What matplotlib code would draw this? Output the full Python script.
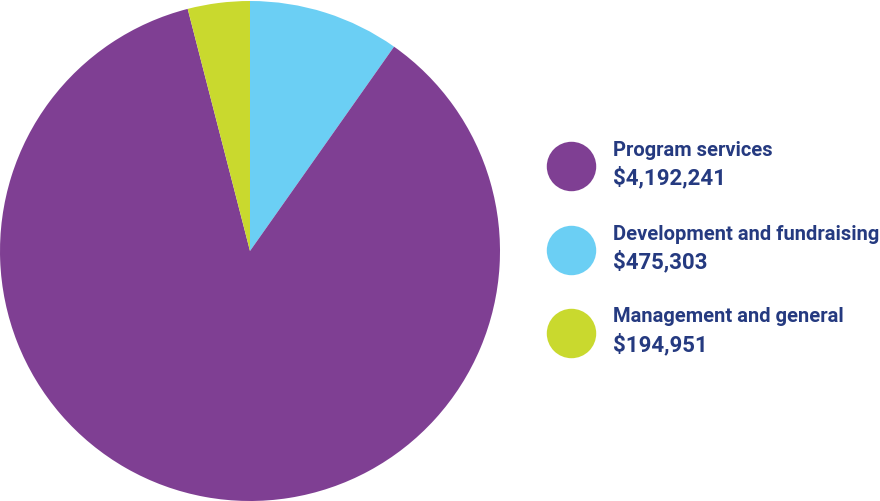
import matplotlib
matplotlib.use("Agg")
import matplotlib.pyplot as plt

labels = ["Development and fundraising", "Program services", "Management and general"]
values = [475303, 4192241, 194951]
colors = ["#6BCFF4", "#7F3F93", "#C9D92E"]

legend_order = [1, 0, 2]
text_color = "#253A80"

fig = plt.figure(figsize=(8.8, 5.01), dpi=100)

ax = fig.add_axes([0, 0, 500 / 880, 500 / 501])
ax.pie(values, colors=colors, startangle=90, counterclock=False,
       radius=1, wedgeprops=dict(linewidth=0))
ax.set_xlim(-1, 1)
ax.set_ylim(-1, 1)
ax.set_aspect("equal")

# legend drawn in pixel coordinates
lg = fig.add_axes([0, 0, 1, 1])
lg.set_xlim(0, 880)
lg.set_ylim(501, 0)
lg.axis("off")
lg.patch.set_alpha(0)

ys = [166, 250, 333]
for y, i in zip(ys, legend_order):
    lg.scatter([571], [y], s=48 ** 2 * 0.55, color=colors[i], linewidths=0)
    lg.text(613, y - 16, labels[i], fontsize=14.5, fontweight="bold",
            color=text_color, family="Roboto", va="center", ha="left")
    lg.text(613, y + 12, "${:,}".format(values[i]), fontsize=16, fontweight="bold",
            color=text_color, family="Roboto", va="center", ha="left")

fig.savefig("out.png", dpi=100)
